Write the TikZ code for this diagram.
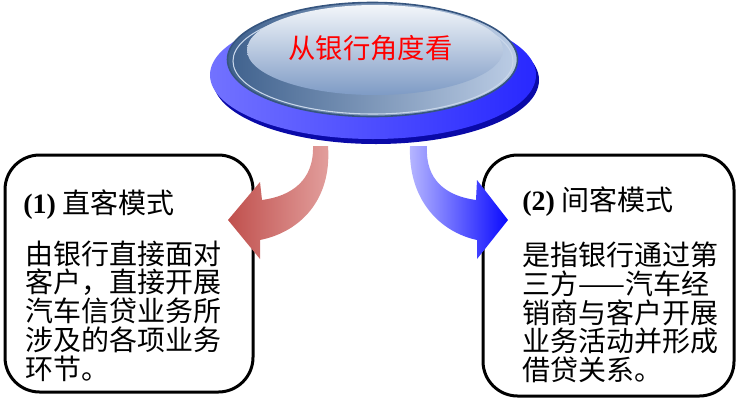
\documentclass[tikz,border=0pt]{standalone}
\usepackage{fontspec}
\setmainfont{Liberation Serif}
\newfontfamily\cjk{Noto Sans CJK SC}
\definecolor{baseRim}{HTML}{0A0AA8}
\definecolor{baseL}{HTML}{7272FF}
\definecolor{baseR}{HTML}{2828FF}
\definecolor{ringD}{HTML}{3F618D}
\definecolor{ringM}{HTML}{6A8CBA}
\definecolor{ringL}{HTML}{BCCDE5}
\definecolor{edgeC}{HTML}{36557F}
\definecolor{faceT}{HTML}{F3F6FA}
\definecolor{faceB}{HTML}{7E9BC5}
\definecolor{redD}{HTML}{C0504D}
\definecolor{redL}{HTML}{E3A19F}
\definecolor{bluD}{HTML}{0A0AFF}
\definecolor{bluL}{HTML}{B8B8FF}
\begin{document}
\begin{tikzpicture}[x=0.75pt,y=-0.75pt,
  box/.style={draw=black,line width=2.25pt,rounded corners=26pt},
  txt/.style={anchor=base west,inner sep=0pt,font=\cjk\fontsize{21}{25}\selectfont},
  ttl/.style={anchor=center,inner sep=0pt,text=red,font=\cjk\fontsize{20.5}{24}\selectfont}]
\useasboundingbox (0,0) rectangle (737,404);
% boxes
\draw[box] (5,155) rectangle (253,392);
\draw[box] (483,155) rectangle (734,396);
% left box text
\node[txt] (lt) at (23,213.6) {{\rmfamily\bfseries (1)} 直客模式};
\node[txt] (l1) at (25,264) {由银行直接面对};
\node[txt] (l2) at (25,292.75) {客户，直接开展};
\node[txt] (l3) at (25,321.5) {汽车信贷业务所};
\node[txt] (l4) at (25,350.25) {涉及的各项业务};
\node[txt] (l5) at (25,379) {环节。};
% right box text
\node[txt] (rt) at (522,210.6) {{\rmfamily\bfseries (2)} 间客模式};
\node[txt] (r1) at (522,265.5) {是指银行通过第};
\node[txt] (r2) at (522,294.25) {三方——汽车经};
\node[txt] (r3) at (522,323) {销商与客户开展};
\node[txt] (r4) at (522,351.75) {业务活动并形成};
\node[txt] (r5) at (522,380.5) {借贷关系。};
% arrows
\path[left color=redD,right color=redL]
  (328,146) .. controls (332,200) and (300,232) .. (260,240)
  -- (260,259) -- (228,220) -- (260,182) -- (262,200)
  .. controls (292,196) and (314,180) .. (313,146) -- cycle;
\path[left color=bluL,right color=bluD]
  (410,146) .. controls (408,200) and (440,232) .. (477,240)
  -- (477,259) -- (508,220) -- (477,180) -- (476,200)
  .. controls (446,196) and (425,180) .. (427,146) -- cycle;
% disk base
\fill[baseRim] (376,80) ellipse [x radius=163, y radius=64];
\path[left color=baseL,right color=baseR] (373,75) ellipse [x radius=163, y radius=64];
% button ring
\path[draw=edgeC,line width=1.2pt,left color=ringD,middle color=ringM,right color=ringL]
  (372.5,59.5) ellipse [x radius=145, y radius=57];
\draw[ringL!80!white,line width=0.8pt] (373,61) ellipse [x radius=140, y radius=53];
% button face
\path[top color=faceT,bottom color=faceB] (375,50) ellipse [x radius=128, y radius=45];
\node[ttl] (title) at (370.5,48) {从银行角度看};
\end{tikzpicture}
\end{document}
